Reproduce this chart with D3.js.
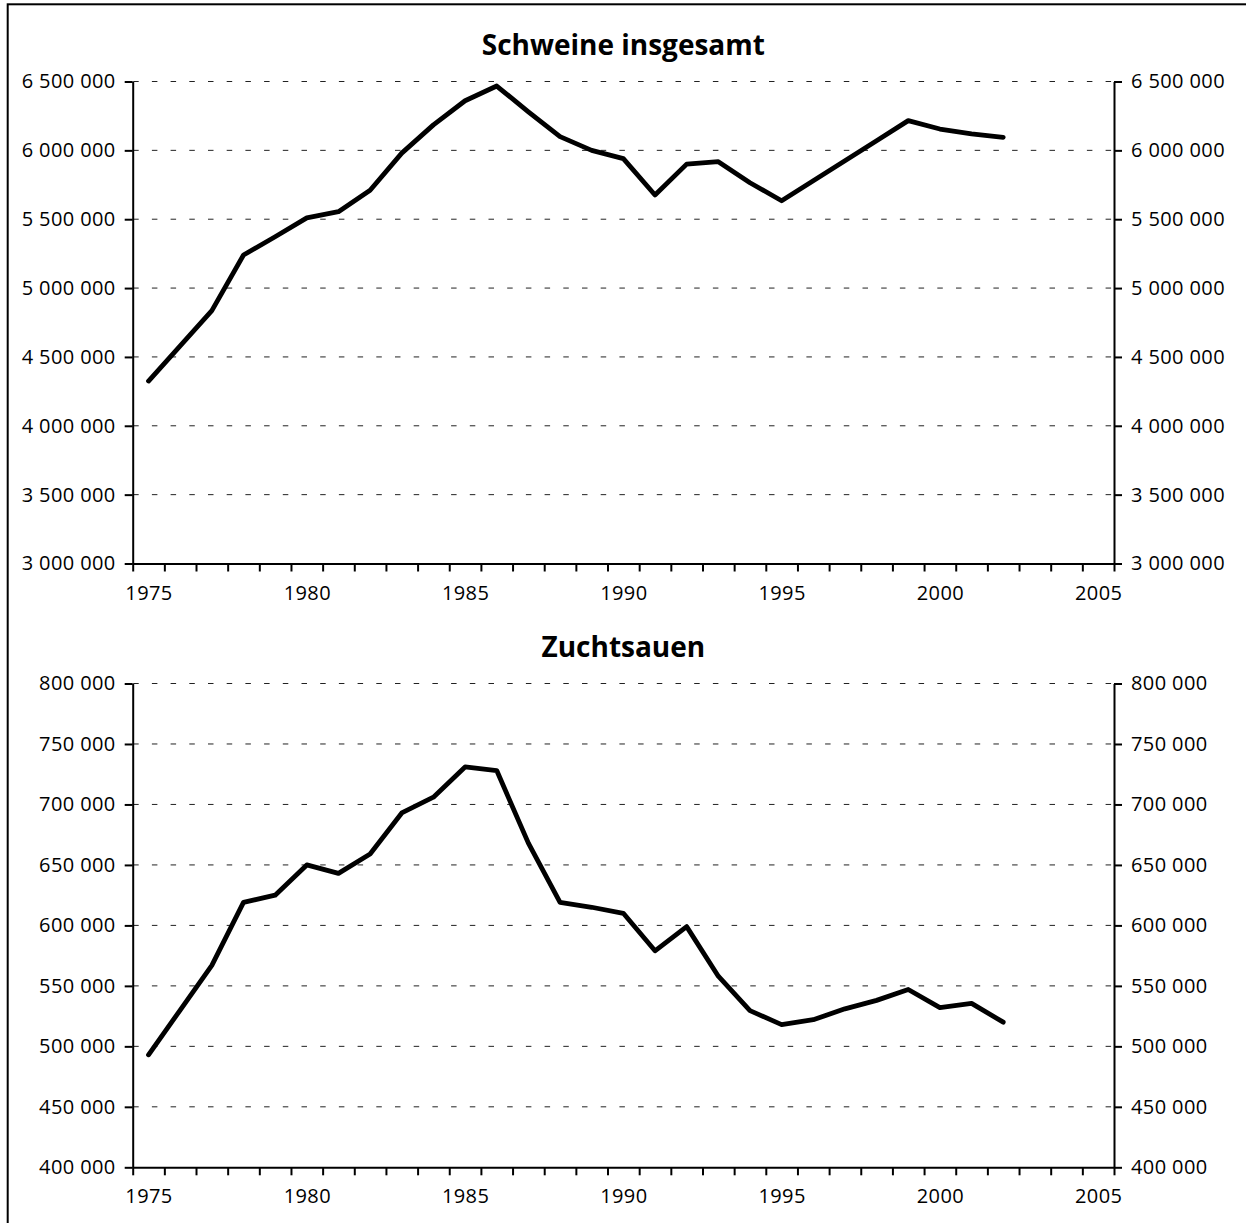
<!DOCTYPE html>
<html>
<head>
<meta charset="utf-8">
<script src="https://cdn.jsdelivr.net/npm/d3@7"></script>
<style>
  body { margin: 0; background: #fff; }
  svg { display: block; }
  .tick text { font-family: "Open Sans", sans-serif; font-size: 20px; fill: #000; letter-spacing: 0.4px; }
  .title { font-family: "Open Sans", sans-serif; font-weight: bold; font-size: 28px; fill: #000; }
</style>
</head>
<body>
<div id="chart"></div>
<script>
// years of the series
var years = [1975, 1976, 1977, 1978, 1979, 1980, 1981, 1982, 1983, 1984,
    1985, 1986, 1987, 1988, 1989, 1990, 1991, 1992, 1993, 1994,
    1995, 1996, 1997, 1998, 1999, 2000, 2001, 2002];

// Schweine insgesamt
var schweine = [4325000, 4580000, 4836000, 5240000, 5373000, 5510000, 5555000, 5710000, 5980000, 6185000,
    6360000, 6467000, 6280000, 6100000, 6000000, 5940000, 5676000, 5900000, 5918000, 5765000,
    5634000, 5780000, 5925000, 6070000, 6216000, 6155000, 6120000, 6095000];

// Zuchtsauen
var zuchtsauen = [493000, 530000, 567000, 619000, 625000, 650000, 643000, 659000, 693000, 706000,
    731000, 728000, 668000, 619000, 615000, 610000, 579000, 599000, 558000, 529500,
    518000, 522000, 531000, 538000, 547000, 532000, 535500, 520000];

// axis settings
var firstYear = 1975;
var lastYear = 2005;
var yearLabels = [1975, 1980, 1985, 1990, 1995, 2000, 2005];
var schweineTicks = [3000000, 3500000, 4000000, 4500000, 5000000, 5500000, 6000000, 6500000];
var sauenTicks = [400000, 450000, 500000, 550000, 600000, 650000, 700000, 750000, 800000];

var svgWidth = 1246;
var svgHeight = 1223;

var svg = d3.select("#chart").append("svg")
    .attr("width", svgWidth)
    .attr("height", svgHeight);

// frame (only left and top edges are inside the picture)
svg.append("rect")
    .attr("x", 7.7)
    .attr("y", 4.3)
    .attr("width", 1400)
    .attr("height", 1400)
    .attr("fill", "none")
    .attr("stroke", "#000")
    .attr("stroke-width", 2);

// x scale: one slot per year, points in the slot middle
var left = 132.7, right = 1114;
var xScale = d3.scaleLinear()
    .domain([firstYear - 0.5, lastYear + 0.5])
    .range([left, right]);

var slotEdges = d3.range(firstYear - 0.5, lastYear + 1, 1);

// number format with spaces as thousands separator
var locale = d3.formatLocale({decimal: ",", thousands: "\u00a0", grouping: [3], currency: ["", ""]});
var fmt = locale.format(",");

function drawPanel(values, ticks, top, bottom, title, titleY) {
    var yScale = d3.scaleLinear()
        .domain([d3.min(ticks), d3.max(ticks)])
        .range([bottom, top]);

    var g = svg.append("g");

    // dashed gridlines
    g.append("g")
        .selectAll("line")
        .data(ticks.slice(1))
        .enter()
        .append("line")
        .attr("x1", left)
        .attr("x2", right)
        .attr("y1", d => yScale(d))
        .attr("y2", d => yScale(d))
        .attr("stroke", "#222")
        .attr("stroke-width", 1)
        .attr("stroke-dasharray", "5.5,13.2")
        .attr("stroke-dashoffset", -0.5);

    // left axis
    g.append("g")
        .attr("transform", `translate(${left},0)`)
        .call(d3.axisLeft(yScale).tickValues(ticks).tickFormat(fmt).tickSize(8).tickSizeOuter(0).tickPadding(9));

    // right axis
    g.append("g")
        .attr("transform", `translate(${right},0)`)
        .call(d3.axisRight(yScale).tickValues(ticks).tickFormat(fmt).tickSize(8).tickSizeOuter(0).tickPadding(9));

    // x axis ticks at slot edges
    g.append("g")
        .attr("transform", `translate(0,${bottom})`)
        .call(d3.axisBottom(xScale).tickValues(slotEdges).tickFormat("").tickSize(8).tickSizeOuter(0));

    // x axis labels in slot middles
    var xLab = g.append("g")
        .attr("transform", `translate(0,${bottom})`)
        .call(d3.axisBottom(xScale).tickValues(yearLabels).tickFormat(d3.format("d")).tickSize(0).tickPadding(22));
    xLab.select(".domain").remove();

    g.selectAll(".domain, .tick line")
        .attr("stroke", "#000")
        .attr("stroke-width", 2);

    // data line
    var line = d3.line()
        .x((d, i) => xScale(years[i]))
        .y(d => yScale(d));

    g.append("path")
        .datum(values)
        .attr("d", line)
        .attr("fill", "none")
        .attr("stroke", "#000")
        .attr("stroke-width", 4.8)
        .attr("stroke-linejoin", "round")
        .attr("stroke-linecap", "round");

    // title
    g.append("text")
        .attr("class", "title")
        .attr("x", (left + right) / 2)
        .attr("y", titleY)
        .attr("text-anchor", "middle")
        .text(title);
}

drawPanel(schweine, schweineTicks, 81.5, 563.5, "Schweine insgesamt", 55);
drawPanel(zuchtsauen, sauenTicks, 683.5, 1167.3, "Zuchtsauen", 657);
</script>
</body>
</html>
